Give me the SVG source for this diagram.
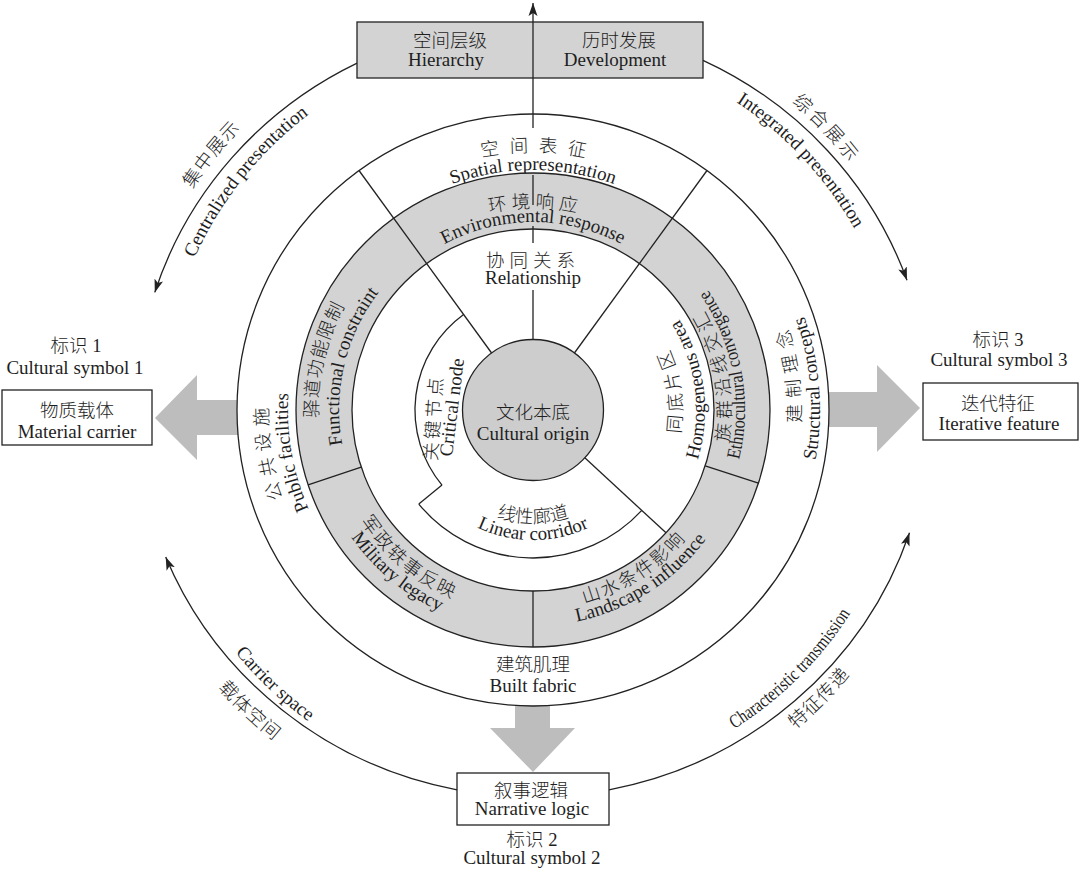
<svg xmlns="http://www.w3.org/2000/svg" width="1080" height="870" viewBox="0 0 1080 870">
<style>
 .ln{fill:none;stroke:#222;stroke-width:1.3}
 .en{font-family:"Liberation Serif",serif;font-size:19px;fill:#1e1e1e}
 .zh{font-family:"Liberation Serif","Noto Sans CJK SC",sans-serif;font-size:18.5px;font-weight:300;fill:#1e1e1e}
 .m{text-anchor:middle}
 .box{fill:#fff;stroke:#222;stroke-width:1.3}
 .gbox{fill:#d3d3d3;stroke:#222;stroke-width:1.3}
 .big{fill:#bdbdbd}
 .ring{fill:#d3d3d3;stroke:#222;stroke-width:1.3}
 .wh{fill:#fff;stroke:#222;stroke-width:1.3}
</style>
<defs>
 <marker id="ah" markerUnits="userSpaceOnUse" markerWidth="14" markerHeight="10" refX="13" refY="5" orient="auto"><path d="M0,0.5 L13,5 L0,9.5 L3,5 z" fill="#222"/></marker>
 <path id="p_sp_zh" d="M309.6,281 A258,258 0 0 1 756.4,281"/>
 <path id="p_sp_en" d="M325.2,290 A240,240 0 0 1 740.8,290"/>
 <path id="p_env_zh" d="M358.1,309 A202,202 0 0 1 707.9,309"/>
 <path id="p_env_en" d="M370.2,316 A188,188 0 0 1 695.8,316"/>
 <path id="p_pub_zh" d="M442.4,659.1 A265,265 0 0 1 362.7,207"/>
 <path id="p_pub_en" d="M449.2,640.3 A245,245 0 0 1 375.5,222.3"/>
 <path id="p_str_zh" d="M694.3,624 A268,268 0 0 0 637.7,163.3"/>
 <path id="p_str_en" d="M695.6,646.5 A287,287 0 0 0 656.6,151"/>
 <path id="p_fun_zh" d="M385,566 A215,215 0 0 1 471.9,203.9"/>
 <path id="p_fun_en" d="M399.5,550.7 A194,194 0 0 1 477.9,224"/>
 <path id="p_mil_zh" d="M331.1,374.4 A205,205 0 0 0 603.1,602.6"/>
 <path id="p_mil_en" d="M314.4,371.5 A222,222 0 0 0 608.9,618.6"/>
 <path id="p_lan_zh" d="M440.7,587.4 A200,200 0 0 0 732.8,401.3"/>
 <path id="p_lan_en" d="M433.3,601.6 A216,216 0 0 0 748.8,400.6"/>
 <path id="p_eth_zh" d="M661.6,560.6 A198,198 0 0 0 599.1,223.4"/>
 <path id="p_eth_en" d="M670.7,571.2 A212,212 0 0 0 603.8,210.2"/>
 <path id="p_hom_zh" d="M623.7,528.2 A149,149 0 0 0 590,272.3"/>
 <path id="p_hom_en" d="M637.7,546.5 A172,172 0 0 0 598.8,251.1"/>
 <path id="p_lin_zh" d="M435.1,466.5 A113,113 0 0 0 630.9,466.5"/>
 <path id="p_lin_en" d="M420.4,475 A130,130 0 0 0 645.6,475"/>
 <path id="p_cen_en" d="M162.1,419.7 A371,371 0 0 1 459,46.5"/>
 <path id="p_cen_zh" d="M127.1,420.6 A406,406 0 0 1 452,12.2"/>
 <path id="p_int_en" d="M578,43.8 A369,369 0 0 1 901.5,390.7"/>
 <path id="p_int_zh" d="M582,11 A402,402 0 0 1 934.4,389"/>
 <path id="p_car_en" d="M151.6,454.8 A384,384 0 0 0 510.9,793.3"/>
 <path id="p_car_zh" d="M115.9,459 A420,420 0 0 0 508.8,829.3"/>
 <path id="p_cha_en" d="M564.6,785.7 A377,377 0 0 0 908.5,444.2"/>
 <path id="p_cha_zh" d="M567.6,821.6 A413,413 0 0 0 944.3,447.4"/>
</defs>
<rect width="1080" height="870" fill="#fff"/>

<g id="big-arrows">
 <polygon class="big" points="155,418 197,375 197,400 242,400 242,435 197,435 197,460"/>
 <polygon class="big" points="920,408 877,365 877,392 824,392 824,427 877,427 877,452"/>
 <polygon class="big" points="533,772 490,728 515,728 515,700 550,700 550,728 575,728"/>
</g>

<g id="ring-outer">
 <circle class="wh" cx="533" cy="410" r="296"/>
 <text class="zh m" letter-spacing="10"><textPath href="#p_sp_zh" startOffset="51%">空间表征</textPath></text>
 <text class="en m"><textPath href="#p_sp_en" startOffset="50%">Spatial representation</textPath></text>
 <text class="zh m" letter-spacing="6"><textPath href="#p_pub_zh" startOffset="51%">公共设施</textPath></text>
 <text class="en m"><textPath href="#p_pub_en" startOffset="50%">Public facilities</textPath></text>
 <text class="zh m" letter-spacing="7"><textPath href="#p_str_zh" startOffset="51%">建制理念</textPath></text>
 <text class="en m"><textPath href="#p_str_en" startOffset="50%">Structural concepts</textPath></text>
 <text class="zh m" x="533" y="671">建筑肌理</text>
 <text class="en m" x="533" y="692">Built fabric</text>
</g>

<g id="ring-gray">
 <circle class="ring" cx="533" cy="410" r="237"/>
 <circle class="wh" cx="533" cy="410" r="181"/>
 <text class="zh m" letter-spacing="4.5"><textPath href="#p_env_zh" startOffset="50.5%">环境响应</textPath></text>
 <text class="en m"><textPath href="#p_env_en" startOffset="50%">Environmental response</textPath></text>
 <text class="zh m" letter-spacing="1"><textPath href="#p_fun_zh" startOffset="50%">驿道功能限制</textPath></text>
 <text class="en m"><textPath href="#p_fun_en" startOffset="50%">Functional constraint</textPath></text>
 <text class="zh m" letter-spacing="2"><textPath href="#p_mil_zh" startOffset="50%">军政轶事反映</textPath></text>
 <text class="en m"><textPath href="#p_mil_en" startOffset="50%">Military legacy</textPath></text>
 <text class="zh m" letter-spacing="2"><textPath href="#p_lan_zh" startOffset="50%">山水条件影响</textPath></text>
 <text class="en m"><textPath href="#p_lan_en" startOffset="50%">Landscape influence</textPath></text>
 <text class="zh m" letter-spacing="5"><textPath href="#p_eth_zh" startOffset="50.5%">族群沿线交汇</textPath></text>
 <text class="en m"><textPath href="#p_eth_en" startOffset="50%" textLength="178" lengthAdjust="spacingAndGlyphs">Ethnocultural convergence</textPath></text>
</g>

<g id="inner">
 <path class="ln" d="M463.6,314.5 A118,118 0 0 0 442,485.1"/>
 <path class="ln" d="M418.8,504.1 A148,148 0 0 0 641.8,510.4"/>
 <line class="ln" x1="442" y1="485.1" x2="418.8" y2="504.1"/>
 <text class="zh m" x="533" y="267" letter-spacing="5">协同关系</text>
 <text class="en m" x="533" y="284">Relationship</text>
 <text class="zh m" letter-spacing="3" transform="translate(440,418) rotate(-86)">关键节点</text>
 <text class="en m" transform="translate(458,408) rotate(-83)">Critical node</text>
 <text class="zh m" letter-spacing="4"><textPath href="#p_hom_zh" startOffset="50.5%">同底片区</textPath></text>
 <text class="en m"><textPath href="#p_hom_en" startOffset="50%">Homogeneous area</textPath></text>
 <text class="zh m"><textPath href="#p_lin_zh" startOffset="50%">线性廊道</textPath></text>
 <text class="en m"><textPath href="#p_lin_en" startOffset="50%">Linear corridor</textPath></text>
</g>

<g id="connectors">
 <line class="ln" x1="491.6" y1="353" x2="359" y2="170.5"/>
 <line class="ln" x1="574.4" y1="353" x2="707" y2="170.5"/>
 <line class="ln" x1="584.8" y1="457.8" x2="666" y2="532.8"/>
 <line class="ln" x1="361.2" y1="467.1" x2="308.1" y2="484.8"/>
 <line class="ln" x1="705.2" y1="465.9" x2="758.4" y2="483.2"/>
 <line class="ln" x1="533" y1="591" x2="533" y2="647"/>
 <line class="ln" x1="533" y1="340" x2="533" y2="290"/>
 <line class="ln" x1="533" y1="243" x2="533" y2="226"/>
 <line class="ln" x1="533" y1="205" x2="533" y2="175"/>
 <path class="ln" d="M357.1,63.1 A397,387 0 0 0 154.8,292.4" marker-end="url(#ah)"/>
 <path class="ln" d="M703,60.3 A397,387 0 0 1 907,280.2" marker-end="url(#ah)"/>
 <path class="ln" d="M457,789.8 A397,387 0 0 1 165.7,556.9" marker-end="url(#ah)"/>
 <path class="ln" d="M609,789.8 A397,387 0 0 0 909.5,532.8" marker-end="url(#ah)"/>
 <text class="en m"><textPath href="#p_cen_en" startOffset="50%">Centralized presentation</textPath></text>
 <text class="zh m" letter-spacing="1"><textPath href="#p_cen_zh" startOffset="50%">集中展示</textPath></text>
 <text class="en m"><textPath href="#p_int_en" startOffset="50%">Integrated presentation</textPath></text>
 <text class="zh m" letter-spacing="3"><textPath href="#p_int_zh" startOffset="49%">综合展示</textPath></text>
 <text class="en m"><textPath href="#p_car_en" startOffset="50%">Carrier space</textPath></text>
 <text class="zh m" letter-spacing="1"><textPath href="#p_car_zh" startOffset="50%">载体空间</textPath></text>
 <text class="en m"><textPath href="#p_cha_en" startOffset="50%" textLength="165" lengthAdjust="spacingAndGlyphs">Characteristic transmission</textPath></text>
 <text class="zh m" letter-spacing="1"><textPath href="#p_cha_zh" startOffset="50%">特征传递</textPath></text>
</g>

<g id="center">
 <circle cx="533" cy="410" r="70.5" fill="#cdcdcd" stroke="#222" stroke-width="1.3"/>
 <text class="zh m" x="533" y="419">文化本底</text>
 <text class="en m" x="533" y="440">Cultural origin</text>
</g>

<g id="box-top">
 <rect class="gbox" x="357" y="22" width="346" height="56"/>
 <line class="ln" x1="533" y1="128" x2="533" y2="3" marker-end="url(#ah)"/>
 <text class="zh m" x="450" y="47">空间层级</text>
 <text class="en m" x="446" y="66">Hierarchy</text>
 <text class="zh m" x="619" y="47">历时发展</text>
 <text class="en m" x="615" y="66">Development</text>
</g>

<g id="box-left">
 <text class="zh m" x="76" y="352">标识 1</text>
 <text class="en m" x="75" y="374">Cultural symbol 1</text>
 <rect class="box" x="2" y="390" width="150" height="55"/>
 <text class="zh m" x="77" y="417">物质载体</text>
 <text class="en m" x="77" y="438">Material carrier</text>
</g>

<g id="box-right">
 <text class="zh m" x="998" y="346">标识 3</text>
 <text class="en m" x="999" y="366">Cultural symbol 3</text>
 <rect class="box" x="923" y="383" width="155" height="57"/>
 <text class="zh m" x="998" y="410">迭代特征</text>
 <text class="en m" x="999" y="430">Iterative feature</text>
</g>

<g id="box-bottom">
 <rect class="box" x="457" y="773" width="152" height="52"/>
 <text class="zh m" x="531" y="797">叙事逻辑</text>
 <text class="en m" x="532" y="815">Narrative logic</text>
 <text class="zh m" x="532" y="846">标识 2</text>
 <text class="en m" x="532" y="864">Cultural symbol 2</text>
</g>
</svg>
